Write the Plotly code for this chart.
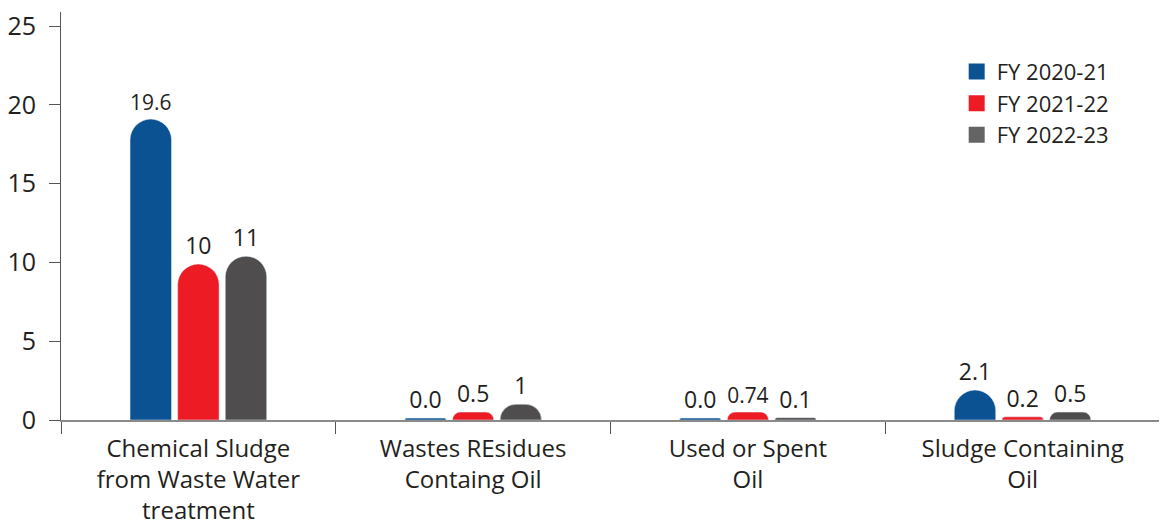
import plotly.graph_objects as go

categories = ["Chemical Sludge<br>from Waste Water<br>treatment",
              "Wastes REsidues<br>Containg Oil",
              "Used or Spent<br>Oil",
              "Sludge Containing<br>Oil"]
series_names = ["FY 2020-21", "FY 2021-22", "FY 2022-23"]
fy2021_values = [19.1, 0.12, 0.12, 1.9]
fy2122_values = [9.9, 0.5, 0.5, 0.2]
fy2223_values = [10.4, 1.0, 0.15, 0.5]
fy2021_labels = ["19.6", "0.0", "0.0", "2.1"]
fy2122_labels = ["10", "0.5", "0.74", "0.2"]
fy2223_labels = ["11", "1", "0.1", "0.5"]
colors = ["#0a5291", "#ed1c24", "#4f4d4e"]
legend_colors = ["#0a5291", "#ed1c24", "#646464"]

values = [fy2021_values, fy2122_values, fy2223_values]
labels = [fy2021_labels, fy2122_labels, fy2223_labels]

fig = go.Figure()
for name, vals, labs, col in zip(series_names, values, labels, colors):
    fig.add_trace(go.Bar(
        x=categories, y=vals, name=name, marker_color=col,
        text=labs, textposition="outside", cliponaxis=False,
        textfont=dict(size=23, color="#231f20", family="Open Sans"),
        showlegend=False,
    ))
for name, col in zip(series_names, legend_colors):
    fig.add_trace(go.Scatter(
        x=[None], y=[None], mode="markers", name=name,
        marker=dict(symbol="square", size=20, color=col),
    ))

# page has an 8px body margin; compensate so the plot area sits at
# x 61..1160, y 12..420 in the window
fig.update_layout(
    barmode="group", bargap=0.48, bargroupgap=0.13,
    barcornerradius=21,
    width=1167, height=526,
    margin=dict(l=53, r=15, t=4, b=114),
    plot_bgcolor="white", paper_bgcolor="white",
    font=dict(family="Open Sans", color="#231f20"),
    showlegend=True,
    legend=dict(x=0.815, y=0.905, xanchor="left", yanchor="top",
                font=dict(size=22, color="#231f20"),
                itemwidth=30, tracegroupgap=0, bgcolor="rgba(0,0,0,0)"),
)
fig.update_xaxes(
    type="category", showline=True, linecolor="#8a8a8a", linewidth=1.5,
    ticks="outside", tickson="boundaries", ticklen=12, tickcolor="#555",
    tickfont=dict(size=24, color="#231f20"), showgrid=False,
    automargin=False, ticklabelstandoff=6, ticklabeloverflow="allow",
)
fig.update_yaxes(
    range=[0, 25.9], tickvals=[0, 5, 10, 15, 20, 25],
    showline=True, linecolor="#555", linewidth=1,
    ticks="outside", ticklen=11, tickcolor="#555",
    tickfont=dict(size=25, color="#231f20"), showgrid=False,
    zeroline=False, ticklabelstandoff=8, automargin=False,
    ticklabeloverflow="allow",
)
fig.write_html("out.html")
